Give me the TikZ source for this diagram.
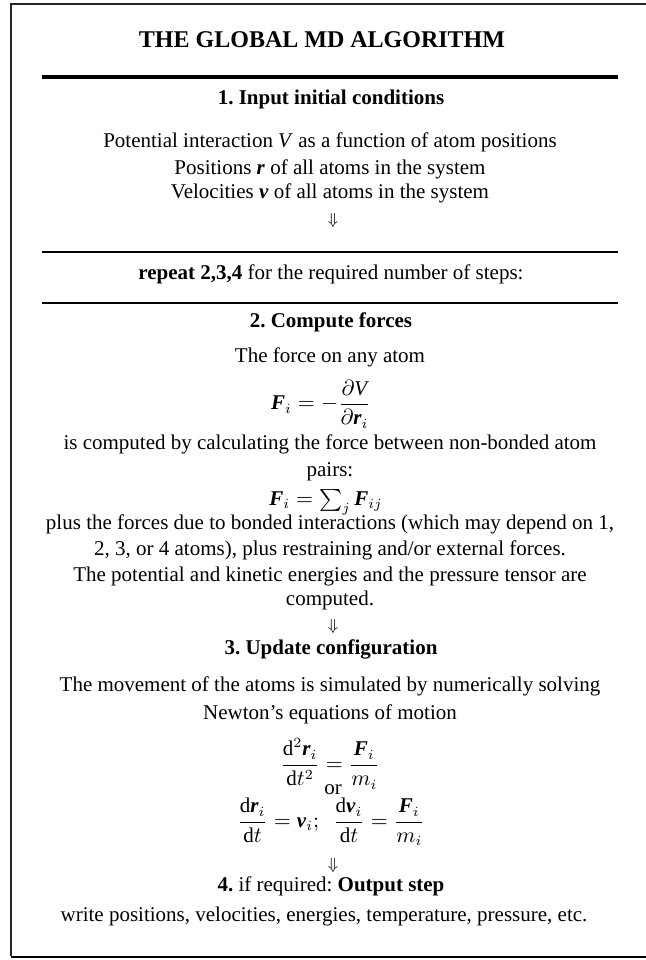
\documentclass[tikz,border=0pt]{standalone}
\usepackage{amsmath}
\usepackage{fontspec}
\setmainfont{Liberation Serif}
\newcommand\bvec[1]{\textbf{\textit{#1}}}
\newcommand\dd{\mathrm{d}}
\begin{document}
\frenchspacing
\begin{tikzpicture}[x=0.5pt,y=-0.5pt,
  txt/.style={font=\fontsize{10.5}{12.5}\selectfont, inner sep=0pt, anchor=mid},
  head/.style={font=\fontsize{10.5}{12.5}\selectfont\bfseries, inner sep=0pt, anchor=mid},
  ttl/.style={font=\fontsize{12}{14}\selectfont\bfseries, inner sep=0pt, anchor=mid},
  eqn/.style={font=\fontsize{10.5}{12.5}\selectfont, inner sep=0pt, anchor=center},
  darr/.style={font=\fontsize{8}{9}\selectfont, inner sep=0pt, anchor=center},
  thinrule/.style={line width=0.7pt},
  thickrule/.style={line width=2pt},
  frameline/.style={line width=0.8pt, draw=black!85},
  shadowline/.style={line width=1.4pt, draw=black}]
\useasboundingbox (0,0) rectangle (645,960);
% frame
\draw[frameline] (652,4) -- (11,4) -- (11,956);
\draw[shadowline] (11,957) -- (652,957);
% title
\node[ttl] (title) at (322,43) {THE GLOBAL MD ALGORITHM};
\coordinate (r1a) at (42,77);  \coordinate (r1b) at (618,77);
\draw[thickrule] (r1a) -- (r1b);
\node[head] (s1) at (331,100) {1. Input initial conditions};
\node[txt] (l1) at (330,143) {Potential interaction \textit{V} as a function of atom positions};
\node[txt] (l2) at (330,170) {Positions \bvec{r} of all atoms in the system};
\node[txt] (l3) at (330,194) {Velocities \bvec{v} of all atoms in the system};
\node[darr] (a1) at (333,220) {$\Downarrow$};
\coordinate (r2a) at (42,252);  \coordinate (r2b) at (618,252);
\draw[thinrule] (r2a) -- (r2b);
\node[txt] (rep) at (331,275) {\textbf{repeat 2,3,4} for the required number of steps:};
\coordinate (r3a) at (42,303);  \coordinate (r3b) at (618,303);
\draw[thinrule] (r3a) -- (r3b);
% step 2
\node[head] (s2) at (331,323) {2. Compute forces};
\node[txt] (l4) at (330,358) {The force on any atom};
\node[eqn] (e1) at (321,404) {$\displaystyle \bvec{F}_i = -\frac{\partial \textit{V}}{\partial \bvec{r}_i}$};
\node[txt] (l5) at (330,445) {is computed by calculating the force between non-bonded atom};
\node[txt] (l6) at (330,472) {pairs:};
\node[eqn] (e2) at (326,502) {$\bvec{F}_i = \textstyle\sum_j \bvec{F}_{ij}$};
\node[txt] (l7) at (330,525) {plus the forces due to bonded interactions (which may depend on 1,};
\node[txt] (l8) at (330,551) {2, 3, or 4 atoms), plus restraining and/or external forces.};
\node[txt] (l9) at (330,577) {The potential and kinetic energies and the pressure tensor are};
\node[txt] (l10) at (330,601) {computed.};
\node[darr] (a2) at (333,626) {$\Downarrow$};
% step 3
\node[head] (s3) at (331,650) {3. Update configuration};
\node[txt] (l11) at (330,687) {The movement of the atoms is simulated by numerically solving};
\node[txt] (l12) at (330,715) {Newton’s equations of motion};
\node[eqn] (e3) at (330,764) {$\displaystyle \frac{\dd^2\bvec{r}_i}{\dd t^2} = \frac{\bvec{F}_i}{m_i}$};
\node[txt] (or) at (333,790) {or};
\node[eqn] (e4) at (331,822) {$\displaystyle \frac{\dd\bvec{r}_i}{\dd t} = \bvec{v}_i;\ \ \frac{\dd\bvec{v}_i}{\dd t} = \frac{\bvec{F}_i}{m_i}$};
\node[darr] (a3) at (333,865) {$\Downarrow$};
% step 4
\node[txt] (s4) at (331,887) {\textbf{4.} if required: \textbf{Output step}};
\node[txt] (l13) at (324,917) {write positions, velocities, energies, temperature, pressure, etc.};
\end{tikzpicture}
\end{document}
